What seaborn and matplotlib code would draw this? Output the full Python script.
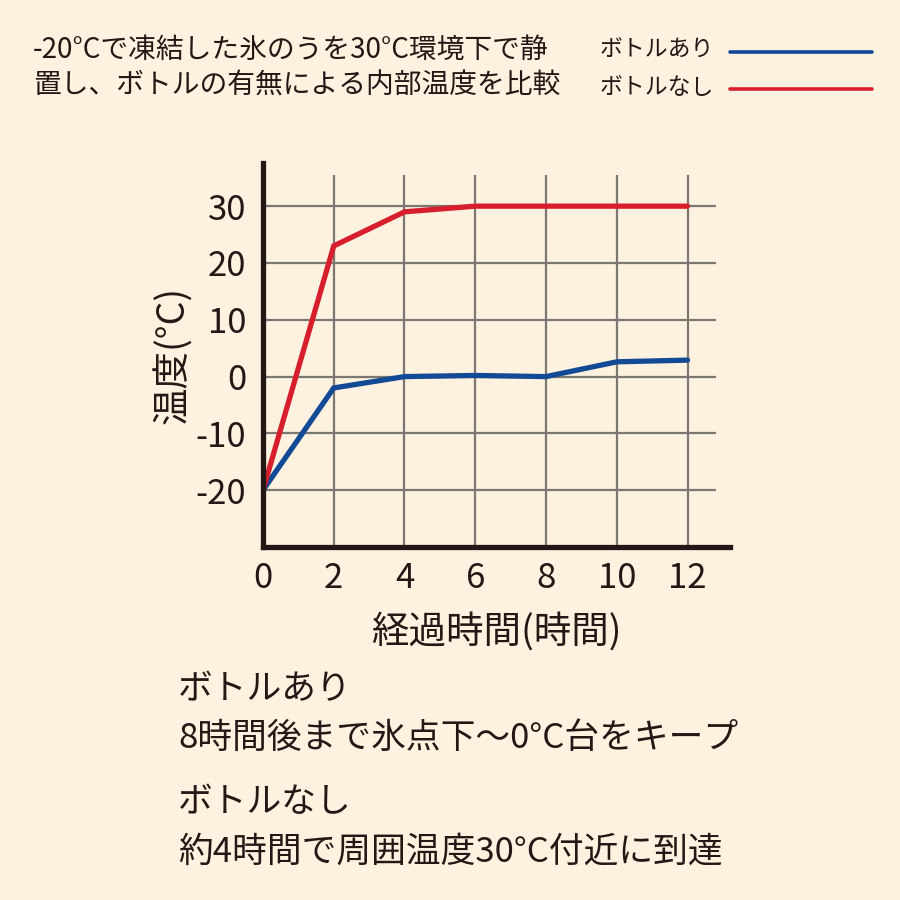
import numpy as np
import pandas as pd
import matplotlib
matplotlib.use("Agg")
import matplotlib.pyplot as plt
import seaborn as sns

#--------------------data-------------------------------------------------------
hours = [0, 2, 4, 6, 8, 10, 12]
with_bottle = [-20, -2, 0, 0.2, 0, 2.6, 2.9]
without_bottle = [-20, 23, 29, 30, 30, 30, 30]
series_names = ["ボトルあり", "ボトルなし"]
series_colors = ["#124A96", "#D61E2C"]
y_ticks = [-20, -10, 0, 10, 20, 30]
x_ticks = [0, 2, 4, 6, 8, 10, 12]

title_lines = ["-20°Cで凍結した氷のうを30°C環境下で静", "置し、ボトルの有無による内部温度を比較"]
note_lines = ["ボトルあり", "8時間後まで氷点下〜0°C台をキープ",
              "ボトルなし", "約4時間で周囲温度30°C付近に到達"]
x_label = "経過時間(時間)"
y_label = "温度(°C)"

df = pd.DataFrame({
    "hours": hours * 2,
    "temp": with_bottle + without_bottle,
    "series": [series_names[0]] * len(hours) + [series_names[1]] * len(hours),
})

#--------------------style------------------------------------------------------
bg = "#FDF1DF"
sns.set_theme(style="white")
plt.rcParams['font.family'] = ['Noto Sans CJK JP', 'DejaVu Sans']
plt.rcParams['axes.facecolor'] = bg
plt.rcParams['figure.facecolor'] = bg

fig = plt.figure(figsize=(9, 9), dpi=100)
ax = fig.add_axes([0.2922, 0.3922, 0.8111 - 0.2922, 0.8189 - 0.3922])

# grid drawn by hand so it stops short of the axes ends
ax.vlines(x_ticks[1:], -30, 35.5, color="#7B7873", lw=1.6, zorder=1)
ax.hlines(y_ticks, 0, 12.8, color="#7B7873", lw=1.6, zorder=1)

sns.lineplot(data=df, x="hours", y="temp", hue="series", palette=series_colors,
             hue_order=series_names, linewidth=3.8, legend=False, ax=ax, zorder=3)
for ln in ax.lines:
    ln.set_solid_joinstyle("miter")

ax.set_xlim(0, 13.2)
ax.set_ylim(-30, 37.6)
ax.set_xticks(x_ticks)
ax.set_yticks(y_ticks)
ax.set_xticklabels([str(t) for t in x_ticks])
ax.set_yticklabels([str(t) for t in y_ticks])
ax.tick_params(axis="both", length=0, labelsize=25, colors="#231815")
ax.tick_params(axis="x", pad=10)
ax.tick_params(axis="y", pad=12)

for side in ["top", "right"]:
    ax.spines[side].set_visible(False)
for side in ["left", "bottom"]:
    ax.spines[side].set_color("#231815")
    ax.spines[side].set_linewidth(3.8)
    ax.spines[side].set_capstyle("projecting")
    ax.spines[side].set_zorder(4)

ax.set_xlabel(x_label, fontsize=27, color="#231815", labelpad=12)
ax.set_ylabel(y_label, fontsize=27, color="#231815", labelpad=2)

#--------------------text around the chart--------------------------------------
fig.text(33 / 900, 1 - 50 / 900, title_lines[0], fontsize=20, color="#231815", va="center")
fig.text(33 / 900, 1 - 86 / 900, title_lines[1], fontsize=20, color="#231815", va="center")

for i, (name, col) in enumerate(zip(series_names, series_colors)):
    y = 1 - (50 + 37 * i) / 900
    fig.text(600 / 900, y, name, fontsize=16.5, color="#231815", va="center")
    fig.add_artist(plt.Line2D([730 / 900, 872 / 900], [y - 2 / 900, y - 2 / 900],
                              color=col, lw=2.6, transform=fig.transFigure))

note_y = [690, 738, 803, 852]
for txt, yy in zip(note_lines, note_y):
    fig.text(178 / 900, 1 - yy / 900, txt, fontsize=25, color="#231815", va="center")

fig.savefig("out.png", dpi=100, facecolor=bg)
